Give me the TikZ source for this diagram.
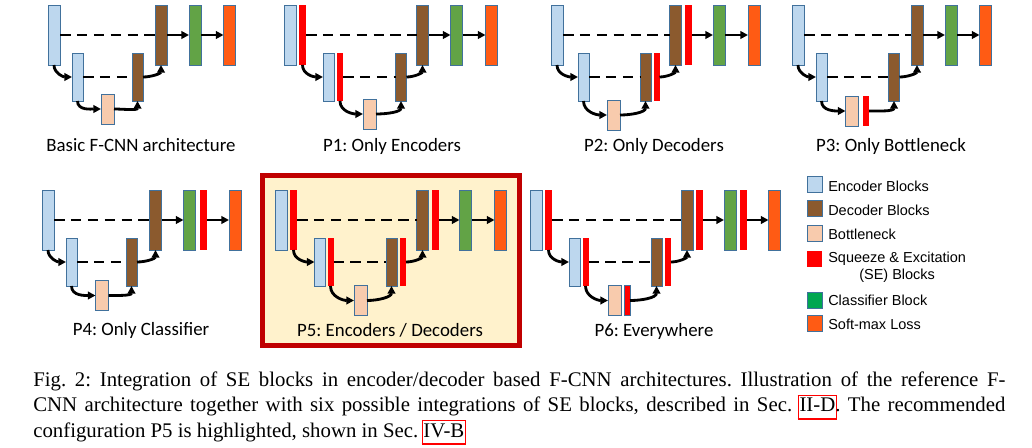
\documentclass[tikz,border=0pt]{standalone}
\usepackage{fontspec}
\setmainfont{Liberation Serif}
\newfontfamily\calfont{Carlito}
\newfontfamily\arialfont{Liberation Sans}
\usetikzlibrary{arrows.meta}
\setlength\parindent{0pt}
\frenchspacing

\definecolor{encblue}{HTML}{BDD7EE}
\definecolor{decbrown}{HTML}{8B5A2E}
\definecolor{botpeach}{HTML}{F8CBAD}
\definecolor{clsgreen}{HTML}{62A346}
\definecolor{smorange}{HTML}{FF5B14}
\definecolor{edgeblue}{HTML}{41719C}
\definecolor{framered}{HTML}{C00000}
\definecolor{framefill}{HTML}{FFF2CC}
\definecolor{legreen}{HTML}{00A650}

\newcommand\refbox[1]{{\setlength\fboxsep{0.6pt}\setlength\fboxrule{0.8pt}\hspace{-1.4pt}\textcolor{red}{\fbox{\rule[-4pt]{0pt}{14.5pt}\textcolor{black}{#1}}}\hspace{-1.4pt}}}

\tikzset{
  blk/.style={draw=edgeblue,line width=0.6pt,inner sep=0pt,outer sep=0pt},
  enc/.style={blk,fill=encblue},
  dec/.style={blk,fill=decbrown},
  bot/.style={blk,fill=botpeach},
  cls/.style={blk,fill=clsgreen},
  smx/.style={blk,fill=smorange},
  se/.style={fill=red,inner sep=0pt,outer sep=0pt},
  hA/.style={minimum width=0.3cm,minimum height=1.5cm},
  hB/.style={minimum width=0.275cm,minimum height=1.2cm},
  hC/.style={minimum width=0.325cm,minimum height=0.75cm},
  sA/.style={se,minimum width=0.175cm,minimum height=1.5cm},
  sB/.style={se,minimum width=0.15cm,minimum height=1.2cm},
  sC/.style={se,minimum width=0.15cm,minimum height=0.75cm},
  skipline/.style={line width=2pt,dash pattern=on 7.5pt off 4.5pt},
  flow/.style={->,line width=2pt},
  lbl/.style={font=\calfont\fontsize{13.4}{16}\selectfont,anchor=base,inner sep=0pt},
  legsq/.style={minimum width=0.375cm,minimum height=0.4cm},
  legtxt/.style={font=\arialfont\fontsize{10.3}{12}\selectfont,anchor=west,inner sep=0pt,align=center},
}

\begin{document}
\begin{tikzpicture}[x=0.025cm,y=-0.025cm,>={Triangle[length=5.5pt,width=5.5pt]}]
\useasboundingbox (0,0) rectangle (1032,447);

\node[enc,hA] (b-e1) at (54,35) {};
\node[enc,hB] (b-e2) at (77.5,77) {};
\node[bot,hC] (b-bn) at (107.5,109) {};
\node[dec,hB] (b-d2) at (137.5,77) {};
\node[dec,hA] (b-d1) at (161,35) {};
\node[cls,hA] (b-cl) at (195,35) {};
\node[smx,hA] (b-sm) at (229.5,35) {};
\node[lbl] (b-lb) at (141,151) {Basic F-CNN architecture};
\draw[skipline] (b-e1) -- (b-d1);
\draw[skipline] (b-e2) -- (b-d2);
\draw[flow] (b-e1.south) to[out=-90,in=180] (b-e2.west);
\draw[flow] (b-e2.south) to[out=-90,in=180] (b-bn.west);
\draw[flow] (b-bn.east) to[out=0,in=-90] (b-d2.south);
\draw[flow] (b-d2.east) to[out=0,in=-90] (b-d1.south);
\draw[flow] (b-d1) -- (b-cl);
\draw[flow] (b-cl) -- (b-sm);

\node[enc,hA] (p1-e1) at (290.5,35) {};
\node[sA] (p1-s1) at (302.5,35) {};
\node[enc,hB] (p1-e2) at (328.5,77) {};
\node[sB] (p1-s2) at (340,77) {};
\node[bot,hC] (p1-bn) at (369.5,114) {};
\node[dec,hB] (p1-d2) at (401,77) {};
\node[dec,hA] (p1-d1) at (422.5,35) {};
\node[cls,hA] (p1-cl) at (456.5,35) {};
\node[smx,hA] (p1-sm) at (491.5,35) {};
\node[lbl] (p1-lb) at (392,151) {P1: Only Encoders};
\draw[skipline] (p1-s1) -- (p1-d1);
\draw[skipline] (p1-s2) -- (p1-d2);
\draw[flow] (p1-s1.south) to[out=-90,in=180] (p1-e2.west);
\draw[flow] (p1-s2.south) to[out=-90,in=180] (p1-bn.west);
\draw[flow] (p1-bn.east) to[out=0,in=-90] (p1-d2.south);
\draw[flow] (p1-d2.east) to[out=0,in=-90] (p1-d1.south);
\draw[flow] (p1-d1) -- (p1-cl);
\draw[flow] (p1-cl) -- (p1-sm);

\node[enc,hA] (p2-e1) at (557,35) {};
\node[enc,hB] (p2-e2) at (583.5,77) {};
\node[bot,hC] (p2-bn) at (613.5,115) {};
\node[dec,hB] (p2-d2) at (645.5,77) {};
\node[sB] (p2-s2) at (656.5,77) {};
\node[dec,hA] (p2-d1) at (675.5,35) {};
\node[sA] (p2-s1) at (688.5,35) {};
\node[cls,hA] (p2-cl) at (719,35) {};
\node[smx,hA] (p2-sm) at (754,35) {};
\node[lbl] (p2-lb) at (654,151) {P2: Only Decoders};
\draw[skipline] (p2-e1) -- (p2-d1);
\draw[skipline] (p2-e2) -- (p2-d2);
\draw[flow] (p2-e1.south) to[out=-90,in=180] (p2-e2.west);
\draw[flow] (p2-e2.south) to[out=-90,in=180] (p2-bn.west);
\draw[flow] (p2-bn.east) to[out=0,in=-90] (p2-d2.south);
\draw[flow] (p2-s2.east) to[out=0,in=-90] (p2-d1.south);
\draw[flow] (p2-s1) -- (p2-cl);
\draw[flow] (p2-cl) -- (p2-sm);

\node[enc,hA] (p3-e1) at (798,35) {};
\node[enc,hB] (p3-e2) at (821.5,77) {};
\node[bot,hC] (p3-bn) at (852,111) {};
\node[sC] (p3-sb) at (866,111) {};
\node[dec,hB] (p3-d2) at (894,77) {};
\node[dec,hA] (p3-d1) at (917,35) {};
\node[cls,hA] (p3-cl) at (951,35) {};
\node[smx,hA] (p3-sm) at (985.5,35) {};
\node[lbl] (p3-lb) at (891,151) {P3: Only Bottleneck};
\draw[skipline] (p3-e1) -- (p3-d1);
\draw[skipline] (p3-e2) -- (p3-d2);
\draw[flow] (p3-e1.south) to[out=-90,in=180] (p3-e2.west);
\draw[flow] (p3-e2.south) to[out=-90,in=180] (p3-bn.west);
\draw[flow] (p3-sb.east) to[out=0,in=-90] (p3-d2.south);
\draw[flow] (p3-d2.east) to[out=0,in=-90] (p3-d1.south);
\draw[flow] (p3-d1) -- (p3-cl);
\draw[flow] (p3-cl) -- (p3-sm);

\node[enc,hA] (p4-e1) at (48,220) {};
\node[enc,hB] (p4-e2) at (71.5,262) {};
\node[bot,hC] (p4-bn) at (102,295.5) {};
\node[dec,hB] (p4-d2) at (131.5,262) {};
\node[dec,hA] (p4-d1) at (155.5,220) {};
\node[cls,hA] (p4-cl) at (189.5,220) {};
\node[sA] (p4-sc) at (203.5,220) {};
\node[smx,hA] (p4-sm) at (235,220) {};
\node[lbl] (p4-lb) at (141,335) {P4: Only Classifier};
\draw[skipline] (p4-e1) -- (p4-d1);
\draw[skipline] (p4-e2) -- (p4-d2);
\draw[flow] (p4-e1.south) to[out=-90,in=180] (p4-e2.west);
\draw[flow] (p4-e2.south) to[out=-90,in=180] (p4-bn.west);
\draw[flow] (p4-bn.east) to[out=0,in=-90] (p4-d2.south);
\draw[flow] (p4-d2.east) to[out=0,in=-90] (p4-d1.south);
\draw[flow] (p4-d1) -- (p4-cl);
\draw[flow] (p4-sc) -- (p4-sm);

\draw[framered,line width=0.125cm,fill=framefill] (262.5,175.5) rectangle (519.5,345.5);
\node[enc,hA] (p5-e1) at (281.5,220) {};
\node[sA] (p5-s1) at (293.5,220) {};
\node[enc,hB] (p5-e2) at (320,262) {};
\node[sB] (p5-s2) at (330.5,262) {};
\node[bot,hC] (p5-bn) at (360.5,300.5) {};
\node[dec,hB] (p5-d2) at (391.5,262) {};
\node[sB] (p5-sd2) at (403,262) {};
\node[dec,hA] (p5-d1) at (422.5,220) {};
\node[sA] (p5-sd1) at (435,220) {};
\node[cls,hA] (p5-cl) at (465.5,220) {};
\node[smx,hA] (p5-sm) at (500.5,220) {};
\node[lbl] (p5-lb) at (390,336) {P5: Encoders / Decoders};
\draw[skipline] (p5-s1) -- (p5-d1);
\draw[skipline] (p5-s2) -- (p5-d2);
\draw[flow] (p5-s1.south) to[out=-90,in=180] (p5-e2.west);
\draw[flow] (p5-s2.south) to[out=-90,in=180] (p5-bn.west);
\draw[flow] (p5-bn.east) to[out=0,in=-90] (p5-d2.south);
\draw[flow] (p5-sd2.east) to[out=0,in=-90] (p5-d1.south);
\draw[flow] (p5-sd1) -- (p5-cl);
\draw[flow] (p5-cl) -- (p5-sm);

\node[enc,hA] (p6-e1) at (536.5,220) {};
\node[sA] (p6-s1) at (548.5,220) {};
\node[enc,hB] (p6-e2) at (574.5,262) {};
\node[sB] (p6-s2) at (585.5,262) {};
\node[bot,hC] (p6-bn) at (614.5,300.5) {};
\node[sC,draw=edgeblue,line width=0.6pt] (p6-sb) at (627,300.5) {};
\node[dec,hB] (p6-d2) at (656.5,262) {};
\node[sB] (p6-sd2) at (668,262) {};
\node[dec,hA] (p6-d1) at (687,220) {};
\node[sA] (p6-sd1) at (699,220) {};
\node[cls,hA] (p6-cl) at (730,220) {};
\node[sA] (p6-sc) at (743.5,220) {};
\node[smx,hA] (p6-sm) at (774.5,220) {};
\node[lbl] (p6-lb) at (654,336) {P6: Everywhere};
\draw[skipline] (p6-s1) -- (p6-d1);
\draw[skipline] (p6-s2) -- (p6-d2);
\draw[flow] (p6-s1.south) to[out=-90,in=180] (p6-e2.west);
\draw[flow] (p6-s2.south) to[out=-90,in=180] (p6-bn.west);
\draw[flow] (p6-sb.east) to[out=0,in=-90] (p6-d2.south);
\draw[flow] (p6-sd2.east) to[out=0,in=-90] (p6-d1.south);
\draw[flow] (p6-sd1) -- (p6-cl);
\draw[flow] (p6-sc) -- (p6-sm);

\node[enc,legsq] (k-enc) at (814.5,184) {};
\node[dec,legsq] (k-dec) at (814.5,208.5) {};
\node[bot,legsq] (k-bot) at (814.5,233.5) {};
\node[se,legsq] (k-se) at (814.5,258.5) {};
\node[blk,fill=legreen,legsq] (k-cls) at (814.5,300) {};
\node[smx,legsq] (k-sm) at (814.5,323) {};
\node[legtxt] (k-enc-t) at (828,186) {Encoder Blocks};
\node[legtxt] (k-dec-t) at (828,210) {Decoder Blocks};
\node[legtxt] (k-bot-t) at (828,234) {Bottleneck};
\node[legtxt] (k-se-t) at (828,267.5) {Squeeze \& Excitation\\(SE) Blocks};
\node[legtxt] (k-cls-t) at (828,300) {Classifier Block};
\node[legtxt] (k-sm-t) at (828,324) {Soft-max Loss};

\node[anchor=north west,inner sep=0pt,text width=24.3cm,align=justify,font=\fontsize{14.8}{17.8}\selectfont] (cap) at (33,372) {Fig.~2: Integration of SE blocks in encoder/decoder based F-CNN architectures. Illustration of the reference F-\linebreak CNN architecture together with six possible integrations of SE blocks, described in Sec.~\refbox{II-D}. The recommended\linebreak configuration P5 is highlighted, shown in Sec.~\refbox{IV-B}};
\end{tikzpicture}
\end{document}
